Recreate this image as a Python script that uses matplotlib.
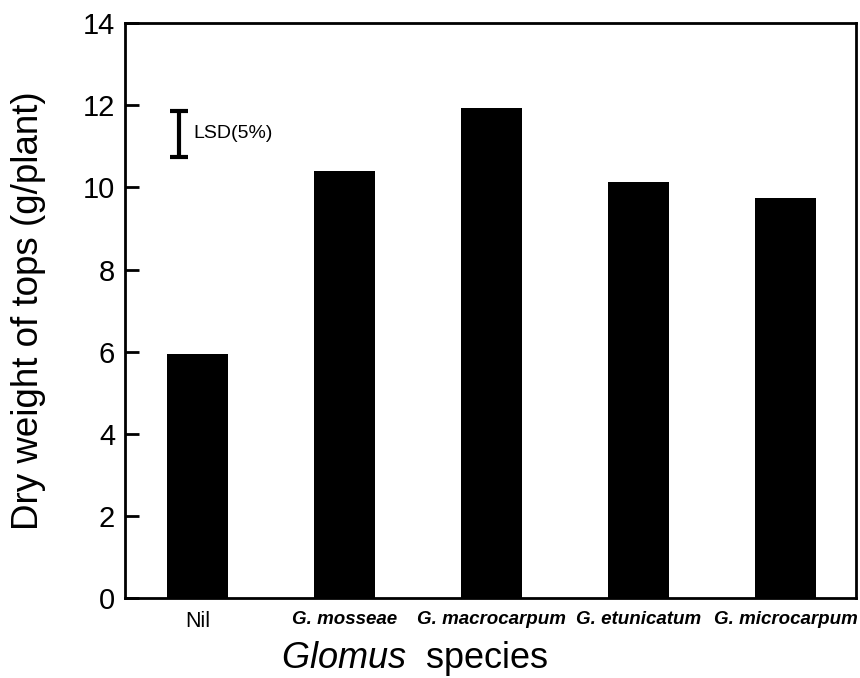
import matplotlib
matplotlib.use('Agg')
import matplotlib.pyplot as plt

plt.rcParams['font.family'] = ['Liberation Sans', 'DejaVu Sans']
plt.rcParams['mathtext.fontset'] = 'custom'
plt.rcParams['mathtext.it'] = 'Liberation Sans:italic'
plt.rcParams['mathtext.rm'] = 'Liberation Sans'

# data
species = ['Nil', 'G. mosseae', 'G. macrocarpum', 'G. etunicatum', 'G. microcarpum']
dry_weight = [5.95, 10.41, 11.94, 10.14, 9.75]
lsd_mid = 11.3
lsd = 1.12

x = list(range(len(species)))

fig = plt.figure(figsize=(8.6, 6.78), dpi=100)
ax = fig.add_axes([0.1453, 0.1173, 0.85, 0.8488])

ax.bar(x, dry_weight, width=0.42, color='black')

# LSD bar
ax.errorbar([-0.126], [lsd_mid], yerr=lsd / 2, fmt='none', ecolor='black',
            elinewidth=3, capsize=6.5, capthick=3)
ax.text(-0.03, lsd_mid, 'LSD(5%)', fontsize=14, va='center', ha='left')

ax.set_xlim(-0.493, 4.48)
ax.set_ylim(0, 14)
ax.set_yticks(range(0, 15, 2))
ax.tick_params(axis='y', direction='in', length=10, width=2, labelsize=21, pad=7)
ax.set_xticks(x)
ax.set_xticklabels(species)
ax.tick_params(axis='x', length=0, pad=9)
for i, lab in enumerate(ax.get_xticklabels()):
    if i == 0:
        lab.set_fontsize(15.5)
    else:
        lab.set_fontsize(13.5)
        lab.set_fontstyle('italic')
        lab.set_fontweight('bold')

for s in ax.spines.values():
    s.set_linewidth(2)

ax.set_ylabel('Dry weight of tops (g/plant)', fontsize=26.5)
ax.yaxis.set_label_coords(-0.108, 0.5)
ax.set_xlabel(r'$\mathit{Glomus}$  species', fontsize=26)
ax.xaxis.set_label_coords((415 - 125) / 731, -0.07)

plt.savefig('out.png', dpi=100)
